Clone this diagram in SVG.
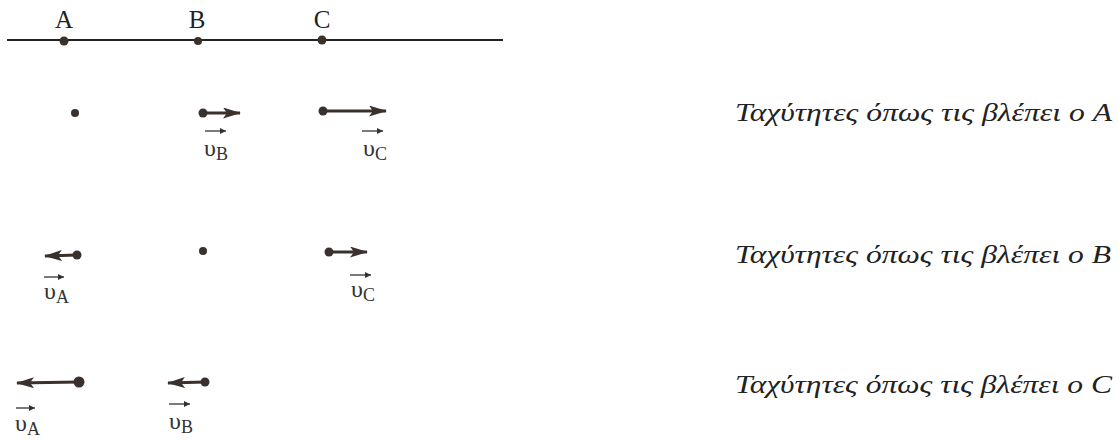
<svg xmlns="http://www.w3.org/2000/svg" width="1119" height="440" viewBox="0 0 1119 440">
<defs>
<style>
.lbl{font-family:"Liberation Serif","DejaVu Serif",serif;font-size:25px;fill:#222;text-anchor:middle}
.cap{font-family:"Liberation Serif","DejaVu Serif",serif;font-style:italic;font-size:25px;fill:#222}
.v{font-family:"Liberation Serif","DejaVu Serif",serif;font-size:24px;fill:#333}
.sub{font-size:18px}
.vec{stroke:#3a302c;stroke-width:3;fill:none}
.va{stroke:#333;stroke-width:1.3;fill:none}
.dot{fill:#3a302c}
</style>
<marker id="head" viewBox="0 0 18 11" refX="17" refY="5.5" markerWidth="18" markerHeight="11" markerUnits="userSpaceOnUse" orient="auto">
<path d="M0,0 L18,5.5 L0,11 L4,5.5 Z" fill="#3a302c"/>
</marker>
<marker id="small" viewBox="0 0 6 6" refX="6" refY="3" markerWidth="6" markerHeight="6" markerUnits="userSpaceOnUse" orient="auto">
<path d="M0,0 L6,3 L0,6 Z" fill="#333"/>
</marker>
</defs>
<g id="axis">
<line x1="7" y1="40" x2="503" y2="40" stroke="#222" stroke-width="2"/>
<circle class="dot" cx="64" cy="41" r="4.5"/>
<circle class="dot" cx="198" cy="41" r="4"/>
<circle class="dot" cx="322" cy="40" r="4.5"/>
<text class="lbl" x="64" y="28">A</text>
<text class="lbl" x="197" y="28">B</text>
<text class="lbl" x="322" y="28">C</text>
</g>
<g id="row-A">
<circle class="dot" cx="75" cy="113" r="4"/>
<g id="vB1">
<circle class="dot" cx="203" cy="113" r="4.5"/>
<line class="vec" x1="203" y1="113" x2="240" y2="113" marker-end="url(#head)"/>
<line class="va" x1="205" y1="131" x2="226" y2="131" marker-end="url(#small)"/>
<text class="v" x="204" y="156">υ<tspan class="sub" dy="4">B</tspan></text>
</g>
<g id="vC1">
<circle class="dot" cx="323" cy="111" r="4.5"/>
<line class="vec" x1="323" y1="111" x2="386" y2="111" marker-end="url(#head)"/>
<line class="va" x1="362" y1="131" x2="383" y2="131" marker-end="url(#small)"/>
<text class="v" x="363" y="156">υ<tspan class="sub" dy="4">C</tspan></text>
</g>
<text class="cap" x="735" y="121" textLength="377" lengthAdjust="spacingAndGlyphs">Ταχύτητες όπως τις βλέπει ο A</text>
</g>
<g id="row-B">
<g id="vA2">
<circle class="dot" cx="77" cy="255" r="4.5"/>
<line class="vec" x1="77" y1="255" x2="45" y2="256" marker-end="url(#head)"/>
<line class="va" x1="44" y1="277" x2="64" y2="277" marker-end="url(#small)"/>
<text class="v" x="44" y="299">υ<tspan class="sub" dy="4">A</tspan></text>
</g>
<circle class="dot" cx="203" cy="251" r="4"/>
<g id="vC2">
<circle class="dot" cx="329" cy="252" r="4.5"/>
<line class="vec" x1="329" y1="252" x2="367" y2="252" marker-end="url(#head)"/>
<line class="va" x1="350" y1="275" x2="371" y2="275" marker-end="url(#small)"/>
<text class="v" x="351" y="297">υ<tspan class="sub" dy="4">C</tspan></text>
</g>
<text class="cap" x="735" y="263" textLength="376" lengthAdjust="spacingAndGlyphs">Ταχύτητες όπως τις βλέπει ο B</text>
</g>
<g id="row-C">
<g id="vA3">
<circle class="dot" cx="79" cy="382" r="5.5"/>
<line class="vec" x1="79" y1="382" x2="17" y2="383" marker-end="url(#head)"/>
<line class="va" x1="16" y1="408" x2="35" y2="408" marker-end="url(#small)"/>
<text class="v" x="15" y="431">υ<tspan class="sub" dy="4">A</tspan></text>
</g>
<g id="vB3">
<circle class="dot" cx="205" cy="382" r="4.5"/>
<line class="vec" x1="205" y1="382" x2="168" y2="383" marker-end="url(#head)"/>
<line class="va" x1="169" y1="404" x2="190" y2="404" marker-end="url(#small)"/>
<text class="v" x="169" y="429">υ<tspan class="sub" dy="4">B</tspan></text>
</g>
<text class="cap" x="735" y="393" textLength="377" lengthAdjust="spacingAndGlyphs">Ταχύτητες όπως τις βλέπει ο C</text>
</g>
</svg>
